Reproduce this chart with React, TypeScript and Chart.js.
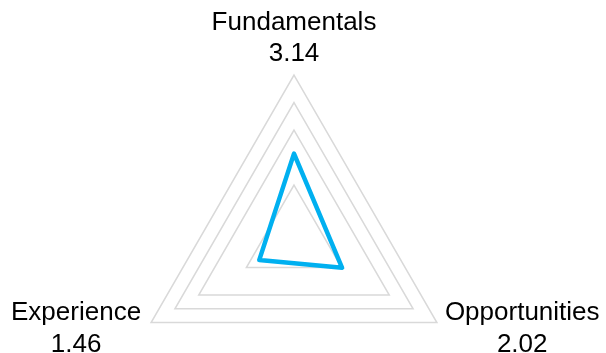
import React, { useEffect, useRef } from 'react';
import { Chart, registerables } from 'chart.js';

Chart.register(...registerables);

const categories = ['Fundamentals', 'Opportunities', 'Experience'];
const values = [3.14, 2.02, 1.46];
const gridTicks = [0, 2, 4, 5, 6];
const scaleMin = 0;
const scaleMax = 6;

const FONT = '26px "Liberation Sans", Arial, sans-serif';
const LINE_STEP = 31.5;
const CENTER_Y = 240;

const cornerLabels = {
  id: 'cornerLabels',
  afterDatasetsDraw(chart: any) {
    const scale = chart.scales.r;
    const ctx = chart.ctx as CanvasRenderingContext2D;
    ctx.save();
    ctx.font = FONT;
    ctx.fillStyle = '#000000';
    ctx.textAlign = 'center';
    ctx.textBaseline = 'alphabetic';
    categories.forEach((cat, i) => {
      const lines = [cat, values[i].toFixed(2)];
      const p = scale.getPointPosition(i, scale.drawingArea);
      const w = Math.max(...lines.map((l) => ctx.measureText(l).width));
      let cx: number;
      let base: number;
      if (Math.abs(p.x - scale.xCenter) < 1) {
        cx = p.x;
        base = p.y - 14 - LINE_STEP * (lines.length - 1);
      } else if (p.x > scale.xCenter) {
        cx = p.x + 8 + w / 2;
        base = p.y - 2.5;
      } else {
        cx = p.x - 10 - w / 2;
        base = p.y - 2.5;
      }
      lines.forEach((l, k) => ctx.fillText(l, cx, base + k * LINE_STEP));
    });
    ctx.restore();
  },
};

export default function App() {
  const ref = useRef<HTMLCanvasElement>(null);
  useEffect(() => {
    document.body.style.margin = '0';
    const chart = new Chart(ref.current!, {
      type: 'radar',
      data: {
        labels: categories,
        datasets: [
          {
            data: values,
            borderColor: '#00b0f0',
            backgroundColor: 'rgba(0,0,0,0)',
            borderWidth: 4.5,
            borderJoinStyle: 'round',
            fill: false,
            pointRadius: 0,
            pointHoverRadius: 0,
          },
        ],
      },
      options: {
        animation: false,
        responsive: false,
        maintainAspectRatio: false,
        layout: { padding: { left: 129, right: 146, top: 0, bottom: 0 } },
        plugins: { legend: { display: false }, tooltip: { enabled: false } },
        scales: {
          r: {
            min: scaleMin,
            max: scaleMax,
            afterBuildTicks: (s: any) => {
              s.ticks = gridTicks.map((v) => ({ value: v }));
            },
            afterFit: (s: any) => {
              s.yCenter = CENTER_Y;
            },
            ticks: { display: false },
            grid: { color: '#d9d9d9', lineWidth: 1.5 },
            angleLines: { display: false },
            pointLabels: { display: false },
          },
        },
      },
      plugins: [cornerLabels],
    } as any);
    return () => chart.destroy();
  }, []);
  return <canvas ref={ref} width={606} height={353} style={{ display: 'block' }} />;
}
